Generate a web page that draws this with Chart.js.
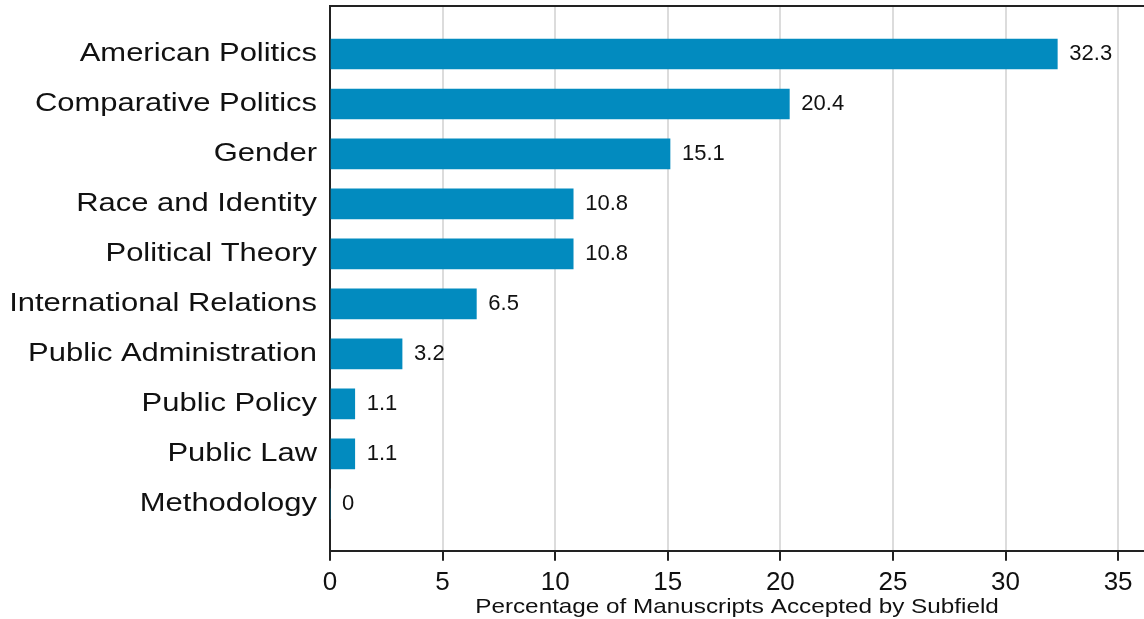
<!DOCTYPE html>
<html>
<head>
  <title>Manuscripts Accepted by Subfield</title>
  <script src="https://cdn.jsdelivr.net/npm/chart.js"></script>
  <style>
    html, body { margin: 0; padding: 0; background: #fff; }
    #wrap { position: relative; width: 1144px; height: 619px; }
  </style>
</head>
<body>
  <div id="wrap"><canvas id="myChart"></canvas></div>
  <script>
    const subfields = ['American Politics', 'Comparative Politics', 'Gender', 'Race and Identity',
      'Political Theory', 'International Relations', 'Public Administration', 'Public Policy',
      'Public Law', 'Methodology'];
    const percents = [32.3, 20.4, 15.1, 10.8, 10.8, 6.5, 3.2, 1.1, 1.1, 0];
    const xTicks = [0, 5, 10, 15, 20, 25, 30, 35];
    const xTitle = 'Percentage of Manuscripts Accepted by Subfield';

    const FONT = '"Liberation Sans", Arial, sans-serif';

    // labels of the reference are drawn a bit wider than normal, so stretch them
    const textDeco = {
      id: 'textDeco',
      afterDraw(chart) {
        const ctx = chart.ctx;
        const a = chart.chartArea;
        const yScale = chart.scales.y;
        ctx.save();
        ctx.fillStyle = '#111';

        // category names
        ctx.font = '26px ' + FONT;
        ctx.textAlign = 'right';
        ctx.textBaseline = 'middle';
        subfields.forEach((name, i) => {
          ctx.save();
          ctx.translate(a.left - 13, yScale.getPixelForValue(i));
          ctx.scale(1.19, 1);
          ctx.fillText(name, 0, 0);
          ctx.restore();
        });

        // axis title
        ctx.font = '21px ' + FONT;
        ctx.textAlign = 'center';
        ctx.save();
        ctx.translate((a.left + a.right) / 2, chart.height - 12);
        ctx.scale(1.156, 1);
        ctx.fillText(xTitle, 0, 0);
        ctx.restore();

        // value labels at the end of each bar
        ctx.font = '22px ' + FONT;
        ctx.textAlign = 'left';
        const meta = chart.getDatasetMeta(0);
        meta.data.forEach((bar, i) => {
          ctx.fillText(String(percents[i]), bar.x + 12, bar.y);
        });

        // top frame line
        ctx.strokeStyle = '#222';
        ctx.lineWidth = 2;
        ctx.beginPath();
        ctx.moveTo(a.left - 1, a.top);
        ctx.lineTo(a.right, a.top);
        ctx.stroke();
        ctx.restore();
      }
    };

    const config = {
      type: 'bar',
      data: {
        datasets: [{
          data: percents.map((v, i) => ({ x: v, y: i })),
          backgroundColor: '#028bbf',
          borderWidth: 0,
          barThickness: 30
        }]
      },
      options: {
        indexAxis: 'y',
        responsive: true,
        maintainAspectRatio: false,
        animation: false,
        layout: { padding: { top: 6, right: 0, left: 0, bottom: 15 } },
        scales: {
          x: {
            type: 'linear',
            min: 0,
            max: 36.15,
            afterBuildTicks(scale) {
              scale.ticks = xTicks.map(v => ({ value: v }));
            },
            grid: { color: '#dcdcdc', lineWidth: 2, tickLength: 10, tickColor: '#222' },
            border: { color: '#222', width: 2 },
            ticks: {
              color: '#111',
              padding: 6,
              maxRotation: 0,
              font: { size: 26, family: FONT }
            }
          },
          y: {
            type: 'linear',
            min: -0.96,
            max: 9.94,
            reverse: true,
            offset: false,
            afterFit(scale) {
              scale.width = 330;
              scale.paddingTop = 0;
              scale.paddingBottom = 0;
            },
            grid: { display: false, drawTicks: false, offset: false },
            border: { color: '#222', width: 2 },
            ticks: { display: false }
          }
        },
        plugins: {
          legend: { display: false },
          tooltip: { enabled: false }
        }
      },
      plugins: [textDeco]
    };

    new Chart(document.getElementById('myChart'), config);
  </script>
</body>
</html>
